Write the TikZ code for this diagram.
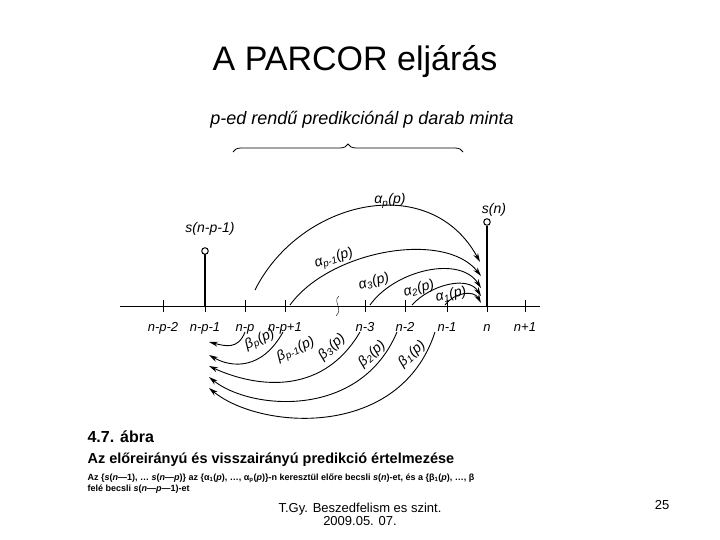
\documentclass[tikz,border=0pt]{standalone}
\usepackage{fontspec}
\setmainfont{Liberation Sans}
\usetikzlibrary{arrows.meta,decorations.pathreplacing}
\newcommand{\sbs}[1]{\textsubscript{#1}}
\begin{document}
\begin{tikzpicture}[x=1pt,y=-1pt,
  arc/.style={line width=0.9pt,-{Stealth[length=9pt,width=5pt]}},
  lab/.style={font=\itshape\fontsize{14}{14}\selectfont},
  ticklab/.style={font=\itshape\fontsize{13}{13}\selectfont,anchor=base},
  greek/.style={font=\itshape\fontsize{14}{14}\selectfont,inner sep=0pt}]
\useasboundingbox (0,0) rectangle (720,540);
\node[font=\fontsize{34}{34}\selectfont] (title) at (355,62) {A PARCOR eljárás};
\node[font=\itshape\fontsize{18}{18}\selectfont] (top) at (362,120) {p-ed rendű predikciónál p darab minta};
\draw[line width=0.8pt,decorate,decoration={brace,amplitude=8pt}] (233,152) -- (463,152);
% axis
\draw[line width=1pt] (120,306) coordinate (a0) -- (540,306) coordinate (a1);
\foreach \x/\t in {163/n-p-2,205/n-p-1,245/n-p,285/n-p+1,365/n-3,405/n-2,447/n-1,487/n,525/n+1}{
  \draw[line width=0.9pt] (\x,300) -- (\x,312);
  \node[ticklab] at (\x,331) {\t};
}
\draw (339,296) .. controls (332,302) and (344,308) .. (336,316);
% stems
\draw[line width=1.3pt] (205,306) -- (205,254);
\node[circle,draw,line width=1pt,inner sep=2.3pt,fill=white] (c1) at (205,251) {};
\draw[line width=1.3pt] (487,306) -- (487,226);
\node[circle,draw,line width=1pt,inner sep=2.3pt,fill=white] (c2) at (487,222) {};
\node[lab] (s1) at (210,229) {s(n-p-1)};
\node[lab] (s2) at (494,210) {s(n)};
% alpha arcs
\draw[arc] (255,290) .. controls (300,200) and (430,170) .. (480,262);
\draw[arc] (290,305) .. controls (330,250) and (445,230) .. (481,276);
\draw[arc] (370,305) .. controls (395,270) and (460,255) .. (481,288);
\draw[arc] (412,305) .. controls (430,285) and (468,275) .. (481,296);
\draw[arc] (445,305) .. controls (455,292) and (474,290) .. (481,303);
\node[greek] at (390,201) {α\sbs{p}(p)};
\node[greek,rotate=18] at (334,259) {α\sbs{p-1}(p)};
\node[greek,rotate=15] at (374,282) {α\sbs{3}(p)};
\node[greek,rotate=15] at (419,289) {α\sbs{2}(p)};
\node[greek,rotate=12] at (451,295) {α\sbs{1}(p)};
% beta arcs
\draw[arc] (245,332) .. controls (238,350) and (225,346) .. (209,342);
\draw[arc] (283,332) .. controls (262,370) and (232,368) .. (209,355);
\draw[arc] (360,332) .. controls (320,400) and (250,385) .. (209,366);
\draw[arc] (397,332) .. controls (360,420) and (250,410) .. (209,377);
\draw[arc] (435,332) .. controls (400,440) and (260,430) .. (209,388);
\node[greek,rotate=25] at (260,340) {β\sbs{p}(p)};
\node[greek,rotate=25] at (296,350) {β\sbs{p-1}(p)};
\node[greek,rotate=42] at (332,347) {β\sbs{3}(p)};
\node[greek,rotate=42] at (372,354) {β\sbs{2}(p)};
\node[greek,rotate=42] at (412,354) {β\sbs{1}(p)};
% caption
\node[anchor=west,font=\bfseries\fontsize{16}{16}\selectfont] (cap1) at (84,437) {4.7. ábra};
\node[anchor=west,font=\bfseries\fontsize{14.5}{14.5}\selectfont] (cap2) at (84,460) {Az előreirányú és visszairányú predikció értelmezése};
\node[anchor=west,font=\bfseries\fontsize{9}{9}\selectfont] (cap3) at (84,478) {Az \{\textit{s}(\textit{n}—1), \ldots\ \textit{s}(\textit{n}—\textit{p})\} az \{α\sbs{1}(\textit{p}), \ldots, α\sbs{p}(\textit{p})\}-n keresztül előre becsli \textit{s}(\textit{n})-et, és a \{β\sbs{1}(\textit{p}), \ldots, β};
\node[anchor=west,font=\bfseries\fontsize{9}{9}\selectfont] (cap4) at (84,489) {felé becsli \textit{s}(\textit{n}—\textit{p}—1)-et};
% footer
\node[font=\fontsize{13}{13}\selectfont,align=center] (foot) at (360,514) {T.Gy. Beszedfelism es szint.\\2009.05. 07.};
\node[font=\fontsize{13}{13}\selectfont] (pg) at (662,505) {25};
\end{tikzpicture}
\end{document}
